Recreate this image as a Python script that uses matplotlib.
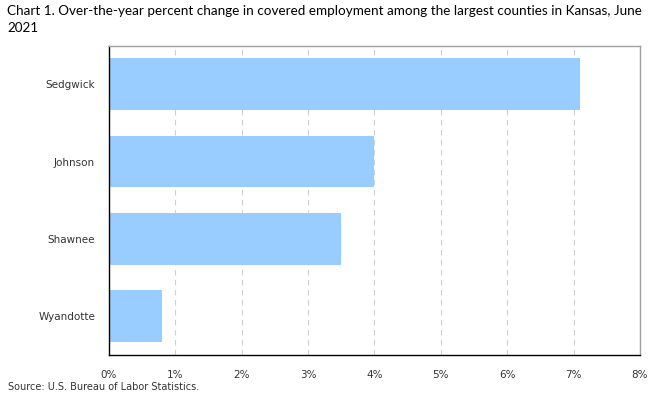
import matplotlib.pyplot as plt
import numpy as np

counties = ['Sedgwick', 'Johnson', 'Shawnee', 'Wyandotte']
pct_change = [7.1, 4.0, 3.5, 0.8]
x_ticks = [0, 1, 2, 3, 4, 5, 6, 7, 8]

fig = plt.figure(figsize=(6.63, 3.95), dpi=100)
ax = fig.add_axes([0.1644, 0.1013, 0.8009, 0.7835])

y = np.arange(len(counties))
ax.barh(y, pct_change, height=0.67, color='#99ccff', zorder=2)

ax.set_ylim(len(counties) - 0.5, -0.5)
ax.set_xlim(0, 8)
ax.set_yticks(y)
ax.set_yticklabels(counties, fontsize=7.5, color='#333333')
ax.set_xticks(x_ticks)
ax.set_xticklabels([f'{t}%' for t in x_ticks], fontsize=7.5, color='#333333')
ax.tick_params(axis='both', length=0)
ax.tick_params(axis='y', pad=10)
ax.tick_params(axis='x', pad=11)

ax.grid(axis='x', linestyle=(0, (5, 4)), color='#d0d0d0', linewidth=0.8, zorder=0)

for side in ['top', 'right']:
    ax.spines[side].set_color('#a0a0a0')
for side in ['left', 'bottom']:
    ax.spines[side].set_color('black')
for s in ax.spines.values():
    s.set_linewidth(1.0)

fig.text(0.011, 0.988, 'Chart 1. Over-the-year percent change in covered employment among the largest counties in Kansas, June\n2021',
         fontsize=9.7, family='Lato', va='top', ha='left', linespacing=1.55)
fig.text(0.012, 0.008, 'Source: U.S. Bureau of Labor Statistics.', fontsize=7, color='#333333', va='bottom', ha='left')

fig.savefig('out.png', dpi=100)
